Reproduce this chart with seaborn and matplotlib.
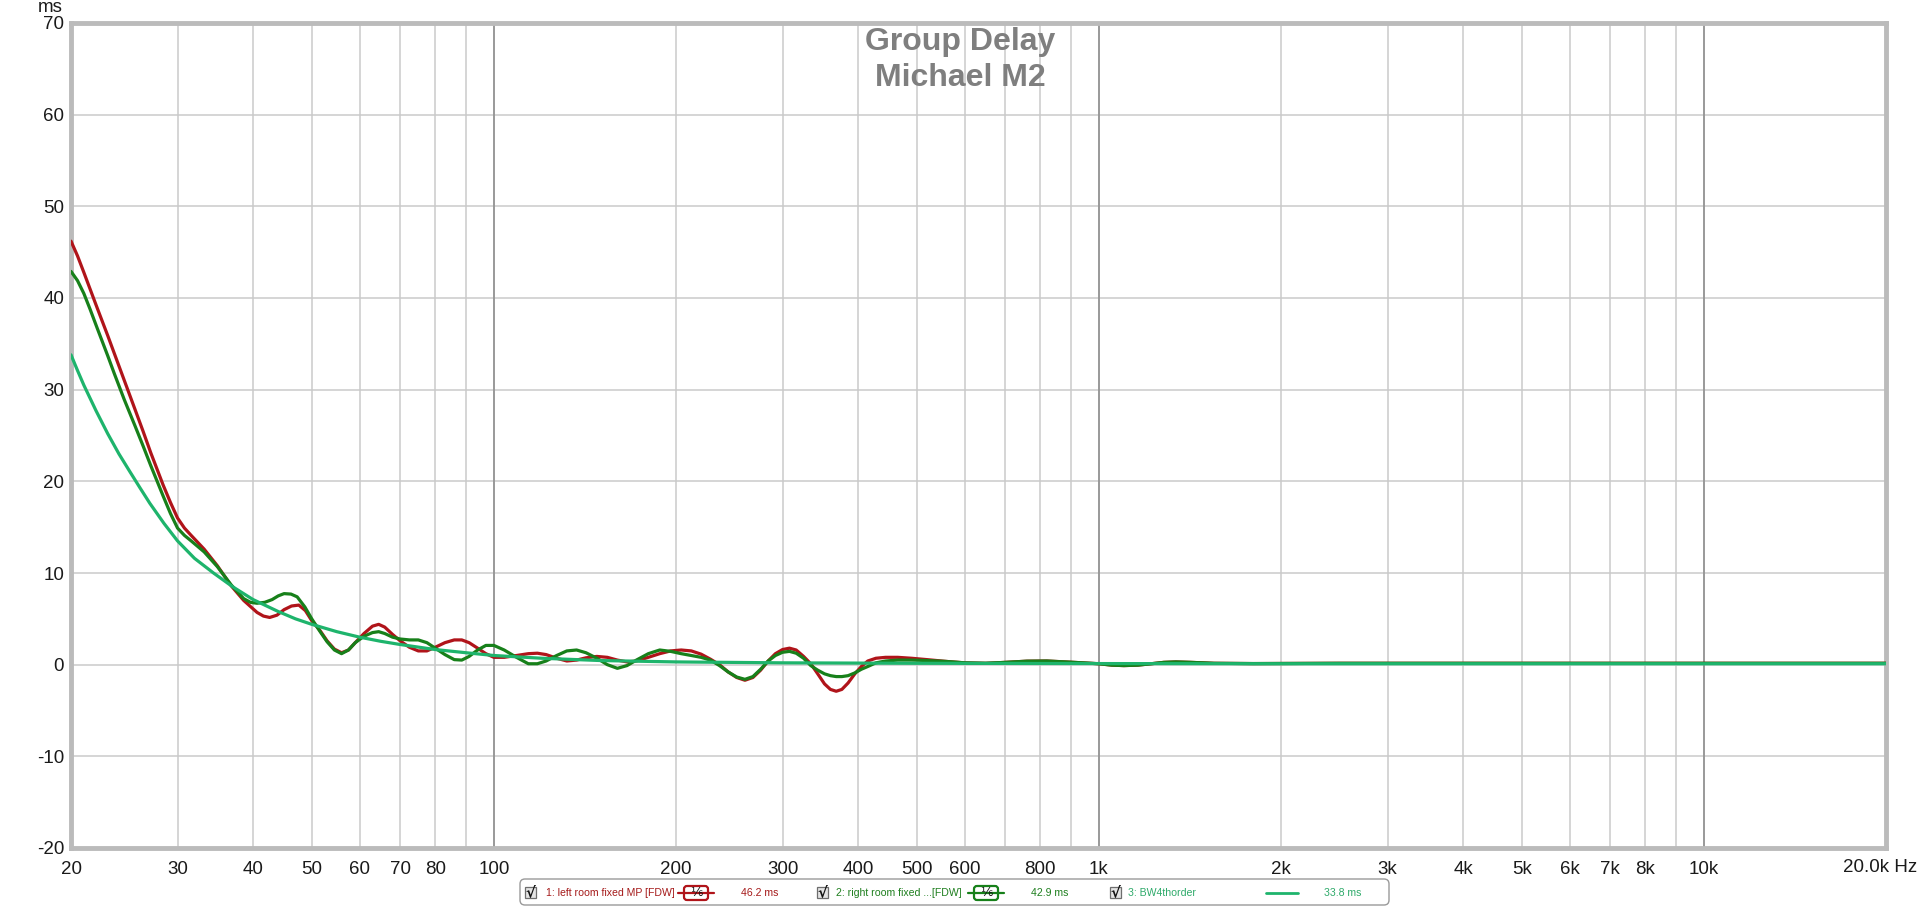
import matplotlib
matplotlib.use("Agg")
import numpy as np
import pandas as pd
import matplotlib.pyplot as plt
import seaborn as sns
from matplotlib.patches import FancyBboxPatch, Rectangle

# ---- data (frequency in Hz, group delay in ms) ----
left_freq = [20, 20.5, 21, 21.5, 22.1, 23, 23.6, 24.5, 25.5, 26.3, 27.1, 28.4, 29.2, 30,
             30.8, 31.6, 33.2, 34.9, 36.8, 38.6, 40.6, 41.6, 42.6, 43.8, 45, 46.3, 47.6, 48.8,
             50, 51.5, 53, 54.5, 56, 57.5, 59, 61, 63, 64.5, 66, 68, 70, 72.5, 75, 77.5, 80,
             83, 86, 88.5, 91, 94, 97, 100, 104, 109, 114, 118, 122, 127, 132, 137, 142, 148,
             154, 160, 166, 172, 180, 188, 196, 204, 212, 220, 228, 236, 244, 252, 260, 268,
             276, 284, 292, 300, 308, 316, 325, 334, 343, 352, 360, 368, 376, 385, 395, 405,
             415, 428, 444, 465, 490, 520, 560, 600, 650, 700, 760, 820, 880, 940, 1000, 1050,
             1100, 1160, 1220, 1280, 1340, 1420, 1550, 1800, 2500, 4000, 7000, 12000, 20000]
left_ms = [46.2, 44.6, 42.8, 41.0, 38.9, 35.9, 33.9, 31.0, 27.9, 25.5, 23.1, 19.6, 17.7, 16.0,
           14.9, 14.1, 12.6, 10.8, 8.6, 7.0, 5.7, 5.3, 5.15, 5.4, 6.0, 6.4, 6.5, 5.9,
           4.8, 3.8, 2.6, 1.7, 1.3, 1.6, 2.4, 3.4, 4.2, 4.4, 4.1, 3.3, 2.6, 1.9, 1.5, 1.5, 1.9,
           2.4, 2.7, 2.7, 2.4, 1.8, 1.2, 0.8, 0.8, 1.0, 1.2, 1.25, 1.1, 0.7, 0.4, 0.5, 0.75, 0.9,
           0.8, 0.5, 0.3, 0.4, 0.8, 1.2, 1.5, 1.6, 1.5, 1.15, 0.6, 0.0, -0.8, -1.4, -1.7, -1.4,
           -0.6, 0.4, 1.2, 1.65, 1.8, 1.6, 0.9, 0.1, -1.0, -2.1, -2.7, -2.9, -2.7, -2.0, -1.0, -0.2,
           0.4, 0.7, 0.8, 0.8, 0.7, 0.55, 0.35, 0.2, 0.15, 0.25, 0.38, 0.4, 0.3, 0.2, 0.1, -0.05,
           -0.1, -0.05, 0.1, 0.25, 0.3, 0.25, 0.15, 0.12, 0.15, 0.15, 0.15, 0.15, 0.15]

right_freq = [20, 20.5, 21, 21.5, 22.1, 23, 23.6, 24.5, 25.5, 26.3, 27.1, 28.4, 29.2, 30,
              30.8, 31.6, 33.2, 34.9, 36.8, 38.6, 39.6, 40.6, 41.8, 43, 44, 45, 46.2, 47.3,
              48.7, 50, 51.5, 53, 54.5, 56, 57.5, 59, 61, 63, 64.5, 66, 68, 70, 72.5, 75, 77.5,
              80, 83, 86, 88.5, 91, 94, 97, 100, 104, 109, 114, 118, 122, 127, 132, 137, 142,
              148, 154, 160, 166, 172, 180, 188, 196, 204, 212, 220, 228, 236, 244, 252, 260,
              268, 276, 284, 292, 300, 308, 316, 325, 334, 343, 352, 360, 368, 376, 385, 395,
              405, 415, 428, 444, 465, 490, 520, 560, 600, 650, 700, 760, 820, 880, 940, 1000,
              1050, 1100, 1160, 1220, 1280, 1340, 1420, 1550, 1800, 2500, 4000, 7000, 12000, 20000]
right_ms = [42.9, 41.9, 40.5, 38.8, 36.7, 33.7, 31.7, 28.9, 26.1, 23.9, 21.7, 18.4, 16.5, 14.9,
            14.1, 13.5, 12.3, 10.7, 8.7, 7.2, 6.8, 6.7, 6.8, 7.1, 7.5, 7.75, 7.7, 7.4,
            6.3, 5.0, 3.7, 2.5, 1.6, 1.2, 1.6, 2.4, 3.1, 3.5, 3.6, 3.4, 3.0, 2.8, 2.7, 2.7, 2.4,
            1.8, 1.1, 0.55, 0.5, 0.9, 1.6, 2.1, 2.1, 1.6, 0.8, 0.1, 0.1, 0.4, 1.0, 1.5, 1.6, 1.3,
            0.7, 0.0, -0.4, -0.1, 0.5, 1.2, 1.6, 1.45, 1.2, 1.0, 0.8, 0.5, -0.1, -0.8, -1.35, -1.6,
            -1.3, -0.5, 0.4, 1.0, 1.35, 1.45, 1.25, 0.7, -0.1, -0.6, -1.0, -1.2, -1.3, -1.3, -1.2, -0.9,
            -0.5, -0.2, 0.2, 0.4, 0.5, 0.5, 0.45, 0.35, 0.2, 0.15, 0.25, 0.38, 0.4, 0.3, 0.2, 0.1,
            -0.05, -0.1, -0.05, 0.1, 0.25, 0.3, 0.25, 0.15, 0.12, 0.15, 0.15, 0.15, 0.15, 0.15]

bw_freq = [20, 20.5, 21, 22, 23, 24, 25, 26, 27, 28.5, 30, 32, 34.4, 37, 40, 44, 47, 50, 55,
           60, 65, 70, 80, 90, 100, 120, 150, 200, 300, 500, 1000, 2000, 5000, 20000]
bw_ms = [33.8, 32.1, 30.5, 27.7, 25.2, 23.0, 21.1, 19.3, 17.6, 15.4, 13.5, 11.6, 10.0, 8.5,
         7.1, 5.8, 5.0, 4.4, 3.6, 3.0, 2.55, 2.2, 1.65, 1.3, 1.0, 0.7, 0.45, 0.3, 0.2, 0.15,
         0.12, 0.1, 0.1, 0.1]

grid_freqs = [20, 30, 40, 50, 60, 70, 80, 90, 100, 200, 300, 400, 500, 600, 700, 800, 900,
              1000, 2000, 3000, 4000, 5000, 6000, 7000, 8000, 9000, 10000]
grid_labels = ['20', '30', '40', '50', '60', '70', '80', '', '100', '200', '300', '400', '500',
               '600', '', '800', '', '1k', '2k', '3k', '4k', '5k', '6k', '7k', '8k', '', '10k']
y_ticks = [-20, -10, 0, 10, 20, 30, 40, 50, 60, 70]

series_names = ['1: left room fixed MP [FDW]', '2: right room fixed ...[FDW]', '3: BW4thorder']
cursor_values = ['46.2 ms', '42.9 ms', '33.8 ms']

RED = '#B0141A'
DKGREEN = '#17801A'
BWGREEN = '#1EB46C'

sns.set_style("white")
plt.rcParams['font.family'] = ['Liberation Sans', 'DejaVu Sans']

W, H = 1920, 907
fig = plt.figure(figsize=(19.2, 9.07), dpi=100)
ax = fig.add_axes([71 / W, 1 - 848 / H, (1886 - 71) / W, (848 - 23) / H])

df_left = pd.DataFrame({'freq': left_freq, 'ms': left_ms})
df_right = pd.DataFrame({'freq': right_freq, 'ms': right_ms})
df_bw = pd.DataFrame({'freq': bw_freq, 'ms': bw_ms})

sns.lineplot(data=df_left, x='freq', y='ms', color=RED, lw=2.3, sort=False, estimator=None, ax=ax, zorder=3)
sns.lineplot(data=df_right, x='freq', y='ms', color=DKGREEN, lw=2.3, sort=False, estimator=None, ax=ax, zorder=4)
sns.lineplot(data=df_bw, x='freq', y='ms', color=BWGREEN, lw=2.3, sort=False, estimator=None, ax=ax, zorder=5)

ax.set_xscale('log')
ax.set_xlim(20, 20000)
ax.set_ylim(-20, 70)
ax.set_xticks(grid_freqs)
ax.set_xticklabels(grid_labels)
ax.minorticks_off()
ax.set_yticks(y_ticks)
ax.set_yticklabels([str(v) for v in y_ticks])
ax.set_xlabel('')
ax.set_ylabel('')
ax.grid(True, color='#CACACA', lw=1.1)
for f in [100, 1000, 10000]:
    ax.axvline(f, color='#8A8A8A', lw=1.1, zorder=1)
ax.tick_params(axis='x', length=0, labelsize=13.5, pad=9, colors='#1A1A1A')
ax.tick_params(axis='y', length=0, labelsize=13.5, pad=5, colors='#1A1A1A')
for s in ax.spines.values():
    s.set_visible(True)
    s.set_color('#BBBBBB')
    s.set_linewidth(3.5)

fig.text(1843 / W, 1 - 867 / H, '20.0k Hz', ha='left', va='center', fontsize=13.5, color='#1A1A1A')
fig.text(63 / W, 1 - 8 / H, 'ms', ha='right', va='center', fontsize=13.5, color='#1A1A1A')

fig.text(0.5, 1 - 50 / H, 'Group Delay', ha='center', va='baseline', fontsize=23,
         fontweight='bold', color='#7F7F7F')
fig.text(0.5, 1 - 86 / H, 'Michael M2', ha='center', va='baseline', fontsize=23,
         fontweight='bold', color='#7F7F7F')

# ---- legend strip at the bottom, drawn in pixel coordinates ----
lg = fig.add_axes([0, 0, 1, 1], zorder=10)
lg.set_xlim(0, W)
lg.set_ylim(H, 0)
lg.axis('off')
lg.patch.set_alpha(0)

lg.add_patch(FancyBboxPatch((520, 879), 869, 26, boxstyle='round,pad=0,rounding_size=5',
                            fc='white', ec='#9A9A9A', lw=1.0))
yc = 893
text_cols = ['#A51A1A', '#1E7F1E', '#2EAA6A']
check_x = [530.5, 822, 1115]
name_x = [546, 836, 1128]
value_x = [741, 1031, 1324]
for cx, nx, vx, name, val, tc in zip(check_x, name_x, value_x, series_names, cursor_values, text_cols):
    lg.add_patch(Rectangle((cx - 5.5, yc - 6), 11, 11, fc='#E4E4E4', ec='#6E6E6E', lw=0.9))
    lg.text(cx + 0.3, yc - 0.8, '√', ha='center', va='center', fontsize=10.5, fontweight='bold',
            color='#111111', family=['DejaVu Sans'])
    lg.text(nx, yc, name, ha='left', va='center', fontsize=7.6, color=tc)
    lg.text(vx, yc, val, ha='left', va='center', fontsize=7.6, color=tc)

for (x0, x1, b0, b1), col in zip([(678, 714, 684, 708), (968, 1004, 974, 998)], [RED, DKGREEN]):
    lg.plot([x0, x1], [yc, yc], color=col, lw=1.6)
    lg.add_patch(FancyBboxPatch((b0, yc - 7), b1 - b0, 14, boxstyle='round,pad=0,rounding_size=3',
                                fc='white', ec=col, lw=1.6))
    lg.text((b0 + b1) / 2, yc, '⅙', ha='center', va='center', fontsize=9, color='#111111',
            family=['DejaVu Sans'])
lg.plot([1266, 1298], [yc, yc], color=BWGREEN, lw=2.0)

fig.savefig('out.png', dpi=100)
